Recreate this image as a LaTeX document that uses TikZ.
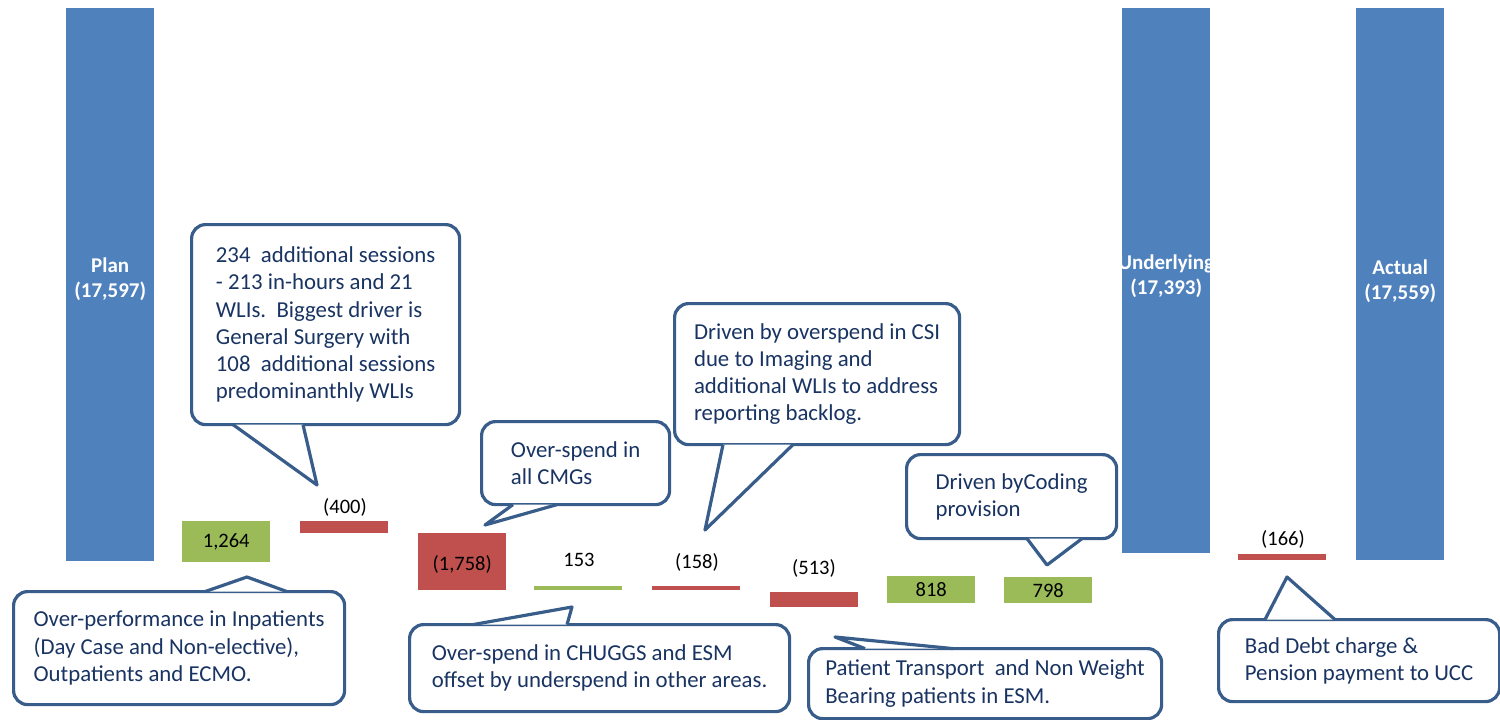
\documentclass[tikz,border=0pt]{standalone}
\usepackage{fontspec}
\setmainfont{Carlito}
\usepackage{tikz}
\definecolor{totblue}{RGB}{79,129,189}
\definecolor{negred}{RGB}{192,80,77}
\definecolor{posgreen}{RGB}{155,187,89}
\definecolor{noteline}{RGB}{56,93,138}
\definecolor{notetext}{RGB}{25,52,98}

\begin{document}
\begin{tikzpicture}[x=1pt,y=-1pt,
    bar/.style={inner sep=0pt, minimum width=88pt, anchor=north west},
    tot/.style={text=white, align=center, font=\bfseries\fontsize{21}{25}\selectfont},
    val/.style={inner sep=0pt, font=\fontsize{20.5}{24}\selectfont},
    note/.style={draw=noteline, line width=3.2pt, fill=white, rounded corners=14pt,
      text=notetext, align=left, anchor=north west, inner sep=0pt,
      font=\fontsize{22.8}{27.2}\selectfont},
    ptr/.style={draw=noteline, fill=white, line width=3.2pt, line join=round}]
    \useasboundingbox (0,0) rectangle (1500,720);

    % bars
    \node[bar, fill=totblue, minimum height=553pt] (plan) at (66,8) {};
    \node[bar, fill=posgreen, minimum height=41pt] (g1264) at (182,521) {};
    \node[bar, fill=negred, minimum height=12pt] (r400) at (300,521) {};
    \node[bar, fill=negred, minimum height=57pt] (r1758) at (418,533) {};
    \node[bar, fill=posgreen, minimum height=4pt] (g153) at (534,586) {};
    \node[bar, fill=negred, minimum height=4pt] (r158) at (652,586) {};
    \node[bar, fill=negred, minimum height=15pt] (r513) at (770,592) {};
    \node[bar, fill=posgreen, minimum height=27pt] (g818) at (887,576) {};
    \node[bar, fill=posgreen, minimum height=26pt] (g798) at (1004,577) {};
    \node[bar, fill=totblue, minimum height=545pt] (under) at (1122,8) {};
    \node[bar, fill=negred, minimum height=6pt] (r166) at (1238,554) {};
    \node[bar, fill=totblue, minimum height=552pt] (actual) at (1356,8) {};

    % bar labels
    \node[tot] (lplan) at ([yshift=5pt]plan) {Plan\\(17,597)};
    \node[tot] (lunder) at ([yshift=4pt]under) {Underlying\\(17,393)};
    \node[tot] (lactual) at ([yshift=3pt]actual) {Actual\\(17,559)};
    \node[val] (v1264) at (g1264) {1,264};
    \node[val] (v400) at (345,507) {(400)};
    \node[val] (v1758) at ([yshift=-3pt]r1758) {(1,758)};
    \node[val] (v153) at (579,560) {153};
    \node[val] (v158) at (697,562) {(158)};
    \node[val] (v513) at (814,568) {(513)};
    \node[val] (v818) at (g818) {818};
    \node[val] (v798) at (g798) {798};
    \node[val] (v166) at (1283,539) {(166)};

    % callouts
    \coordinate (tPerf) at (247,577);
    \coordinate (tSess) at (317,485);
    \coordinate (tCMG) at (485,525);
    \coordinate (tCSI) at (705,530);
    \coordinate (tCoding) at (1047,565);
    \coordinate (tChug) at (572,607);
    \coordinate (tTrans) at (835,637);
    \coordinate (tDebt) at (1287,577);

    \node[note, minimum width=331pt, minimum height=113pt] (cPerf) at (12,590)
      {Over-performance in Inpatients\\(Day Case and Non-elective),\\Outpatients and ECMO.};
    \filldraw[ptr] ([xshift=193pt,yshift=-1.6pt]cPerf.north west) -- (tPerf)
      -- ([xshift=275pt,yshift=-1.6pt]cPerf.north west);

    \node[note, minimum width=268pt, minimum height=200pt] (cSess) at (190,223)
      {234\ \ additional sessions\\- 213 in-hours and 21\\WLIs.\ \ Biggest driver is\\General Surgery with\\108\ \ additional sessions\\predominanthly WLIs};
    \filldraw[ptr] ([xshift=43pt,yshift=1.6pt]cSess.south west) -- (tSess)
      -- ([xshift=113pt,yshift=1.6pt]cSess.south west);

    \node[note, minimum width=188pt, minimum height=83pt] (cCMG) at (480,420)
      {Over-spend in\\all CMGs};
    \filldraw[ptr] ([xshift=33pt,yshift=1.6pt]cCMG.south west) -- (tCMG)
      -- ([xshift=77pt,yshift=1.6pt]cCMG.south west);

    \node[note, minimum width=285pt, minimum height=141pt] (cCSI) at (673,302)
      {Driven by overspend in CSI\\due to Imaging and\\additional WLIs to address\\reporting backlog.};
    \filldraw[ptr] ([xshift=50pt,yshift=1.6pt]cCSI.south west) -- (tCSI)
      -- ([xshift=120pt,yshift=1.6pt]cCSI.south west);

    \node[note, minimum width=210pt, minimum height=84pt] (cCoding) at (905,453)
      {Driven byCoding\\provision};
    \filldraw[ptr] ([xshift=122pt,yshift=1.6pt]cCoding.south west) -- (tCoding)
      -- ([xshift=177pt,yshift=1.6pt]cCoding.south west);

    \node[note, minimum width=380pt, minimum height=87pt] (cChug) at (408,623)
      {Over-spend in CHUGGS and ESM\\offset by underspend in other areas.};
    \filldraw[ptr] ([xshift=65pt,yshift=-1.6pt]cChug.north west) -- (tChug)
      -- ([xshift=159pt,yshift=-1.6pt]cChug.north west);

    \node[note, minimum width=353pt, minimum height=70pt] (cTrans) at (807,647)
      {Patient Transport\ \ and Non Weight\\Bearing patients in ESM.};
    \filldraw[ptr] ([xshift=58pt,yshift=-1.6pt]cTrans.north west) -- (tTrans)
      -- ([xshift=146pt,yshift=-1.6pt]cTrans.north west);

    \node[note, minimum width=281pt, minimum height=82pt] (cDebt) at (1217,618)
      {Bad Debt charge \&\\Pension payment to UCC};
    \filldraw[ptr] ([xshift=48pt,yshift=-1.6pt]cDebt.north west) -- (tDebt)
      -- ([xshift=118pt,yshift=-1.6pt]cDebt.north west);
\end{tikzpicture}
\end{document}
